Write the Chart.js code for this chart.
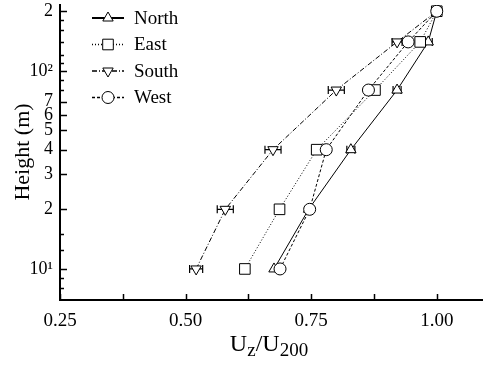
<!DOCTYPE html>
<html>
<head>
<meta charset="utf-8">
<script src="https://cdn.jsdelivr.net/npm/chart.js@4"></script>
<style>
html, body { margin: 0; padding: 0; background: #fff; overflow: hidden; }
</style>
</head>
<body>
<canvas id="chart" width="490" height="365"></canvas>
<script>
// heights (m) and U_z/U_200 profiles
const heights = [10, 20, 40, 80, 140, 200];
const north = [0.676, 0.745, 0.829, 0.921, 0.983, 1.0];
const east = [0.618, 0.687, 0.761, 0.877, 0.967, 1.0];
const south = [0.521, 0.579, 0.674, 0.800, 0.921, 1.0];
const west = [0.688, 0.747, 0.780, 0.864, 0.943, 1.0];
const northErr = [0, 0, 0.008, 0.008, 0.008, 0];
const southErr = [0.013, 0.016, 0.016, 0.016, 0.010, 0];

const yTicks = [8, 9, 10, 12.5, 15, 20, 30, 40, 50, 60, 70, 80, 90, 100, 110, 120, 140, 160, 180, 200];
const yLabels = { 10: '10¹', 20: '2', 30: '3', 40: '4', 50: '5', 60: '6', 70: '7', 100: '10²', 200: '2' };
const xTicks = [0.25, 0.375, 0.5, 0.625, 0.75, 0.875, 1.0];
const xLabels = { 0.25: '0.25', 0.5: '0.50', 0.75: '0.75', 1: '1.00' };

const serif = "'Liberation Serif', 'DejaVu Serif', serif";

// plot box as in the figure (pixels)
const box = { left: 60, top: 5, right: 487, bottom: 300 };

const series = [
    { label: 'North', data: north, err: northErr, style: 'triangle', rot: 0, r: 6, dash: [], order: 3 },
    { label: 'East', data: east, err: null, style: 'rect', rot: 0, r: 7.5, dash: [1, 2], order: 2 },
    { label: 'South', data: south, err: southErr, style: 'triangle', rot: 180, r: 6, dash: [5, 2, 1, 2], order: 1 },
    { label: 'West', data: west, err: null, style: 'circle', rot: 0, r: 6, dash: [3, 2], order: 0 }
];

function toPoints(values) {
    return values.map((v, i) => ({ x: v, y: heights[i] }));
}

function drawMarker(ctx, s, x, y) {
    ctx.save();
    ctx.setLineDash([]);
    ctx.lineWidth = 1;
    ctx.strokeStyle = '#000';
    ctx.fillStyle = '#fff';
    ctx.beginPath();
    if (s.style === 'circle') {
        ctx.arc(x, y, s.r, 0, Math.PI * 2);
    } else if (s.style === 'rect') {
        const h = s.r * Math.SQRT1_2;
        ctx.rect(x - h, y - h, 2 * h, 2 * h);
    } else {
        const sign = s.rot === 180 ? -1 : 1;
        const w = s.r * Math.sqrt(3) / 2;
        ctx.moveTo(x, y - sign * s.r);
        ctx.lineTo(x - w, y + sign * s.r / 2);
        ctx.lineTo(x + w, y + sign * s.r / 2);
        ctx.closePath();
    }
    ctx.fill();
    ctx.stroke();
    ctx.restore();
}

// pin the chart area so label padding doesn't shift it
const pinArea = {
    id: 'pinArea',
    afterLayout(chart) {
        const a = chart.chartArea;
        Object.assign(a, box, { width: box.right - box.left, height: box.bottom - box.top });
        const xs = chart.scales.x, ys = chart.scales.y;
        Object.assign(xs, { left: box.left, right: box.right, width: box.right - box.left, top: box.bottom, bottom: 365, height: 365 - box.bottom });
        Object.assign(ys, { left: 0, right: box.left, width: box.left, top: box.top, bottom: box.bottom, height: box.bottom - box.top });
        xs.configure();
        ys.configure();
    }
};

const errorBars = {
    id: 'errorBars',
    beforeDatasetsDraw(chart) {
        const ctx = chart.ctx;
        const xs = chart.scales.x, ys = chart.scales.y;
        ctx.save();
        ctx.strokeStyle = '#000';
        ctx.lineWidth = 1.2;
        series.forEach(s => {
            if (!s.err) return;
            s.data.forEach((v, i) => {
                if (!s.err[i]) return;
                const py = ys.getPixelForValue(heights[i]);
                const x1 = xs.getPixelForValue(v - s.err[i]);
                const x2 = xs.getPixelForValue(v + s.err[i]);
                ctx.beginPath();
                ctx.moveTo(x1, py); ctx.lineTo(x2, py);
                ctx.moveTo(x1, py - 4); ctx.lineTo(x1, py + 4);
                ctx.moveTo(x2, py - 4); ctx.lineTo(x2, py + 4);
                ctx.stroke();
            });
        });
        ctx.restore();
    }
};

const decorations = {
    id: 'decorations',
    afterDraw(chart) {
        const ctx = chart.ctx;
        const xs = chart.scales.x, ys = chart.scales.y;
        const area = chart.chartArea;
        ctx.save();
        ctx.strokeStyle = '#000';
        ctx.lineWidth = 1.5;
        // inward tick marks
        yTicks.forEach(v => {
            const py = Math.round(ys.getPixelForValue(v)) + 0.5;
            const len = yLabels[v] ? 7 : 4;
            ctx.beginPath();
            ctx.moveTo(area.left, py);
            ctx.lineTo(area.left + len, py);
            ctx.stroke();
        });
        xTicks.forEach(v => {
            const px = Math.round(xs.getPixelForValue(v)) + 0.5;
            ctx.beginPath();
            ctx.moveTo(px, area.bottom);
            ctx.lineTo(px, area.bottom - 6);
            ctx.stroke();
        });

        // legend
        series.forEach((s, i) => {
            const ly = 18 + i * 26.5;
            ctx.save();
            ctx.lineWidth = s.dash.length ? 1.5 : 2;
            ctx.setLineDash(s.dash);
            ctx.beginPath();
            ctx.moveTo(92, ly);
            ctx.lineTo(124, ly);
            ctx.stroke();
            ctx.restore();
            drawMarker(ctx, s, 108, ly);
            ctx.fillStyle = '#000';
            ctx.font = '19px ' + serif;
            ctx.textBaseline = 'middle';
            ctx.textAlign = 'left';
            ctx.fillText(s.label, 134, ly + 1);
        });

        // axis titles
        ctx.fillStyle = '#000';
        ctx.textBaseline = 'alphabetic';
        const parts = [['U', 24, 0], ['z', 19, 5], ['/U', 24, 0], ['200', 19, 5]];
        let total = 0;
        parts.forEach(p => { ctx.font = p[1] + 'px ' + serif; total += ctx.measureText(p[0]).width; });
        let tx = 269 - total / 2;
        parts.forEach(p => {
            ctx.font = p[1] + 'px ' + serif;
            ctx.textAlign = 'left';
            ctx.fillText(p[0], tx, 351 + p[2]);
            tx += ctx.measureText(p[0]).width;
        });

        ctx.translate(23, 152);
        ctx.rotate(-Math.PI / 2);
        ctx.font = '22px ' + serif;
        ctx.textAlign = 'center';
        ctx.textBaseline = 'middle';
        ctx.fillText('Height (m)', 0, 0);
        ctx.restore();
    }
};

const ctx = document.getElementById('chart').getContext('2d');
const chart = new Chart(ctx, {
    type: 'scatter',
    data: {
        datasets: series.map(s => ({
            label: s.label,
            data: toPoints(s.data),
            showLine: true,
            borderColor: '#000',
            borderWidth: 1,
            borderDash: s.dash,
            backgroundColor: '#fff',
            pointStyle: s.style,
            pointRotation: s.rot,
            pointRadius: s.r,
            pointBorderWidth: 1,
            pointBorderColor: '#000',
            pointBackgroundColor: '#fff',
            order: s.order
        }))
    },
    options: {
        responsive: false,
        devicePixelRatio: 1,
        animation: false,
        layout: { padding: 0 },
        plugins: {
            legend: { display: false },
            tooltip: { enabled: false }
        },
        scales: {
            x: {
                type: 'linear',
                min: 0.25,
                max: 1.1,
                afterBuildTicks: scale => { scale.ticks = xTicks.map(v => ({ value: v })); },
                grid: { display: false, drawTicks: false },
                border: { display: true, width: 2, color: '#000' },
                ticks: {
                    autoSkip: false,
                    maxRotation: 0,
                    padding: 10,
                    color: '#000',
                    font: { family: serif, size: 19 },
                    callback: v => xLabels[v] || ''
                }
            },
            y: {
                type: 'logarithmic',
                min: 6.97,
                max: 215,
                afterBuildTicks: scale => { scale.ticks = yTicks.map(v => ({ value: v })); },
                grid: { display: false, drawTicks: false },
                border: { display: true, width: 2, color: '#000' },
                ticks: {
                    autoSkip: false,
                    padding: 7,
                    color: '#000',
                    font: { family: serif, size: 18 },
                    callback: v => yLabels[v] || ''
                }
            }
        }
    },
    plugins: [pinArea, errorBars, decorations]
});
</script>
</body>
</html>
